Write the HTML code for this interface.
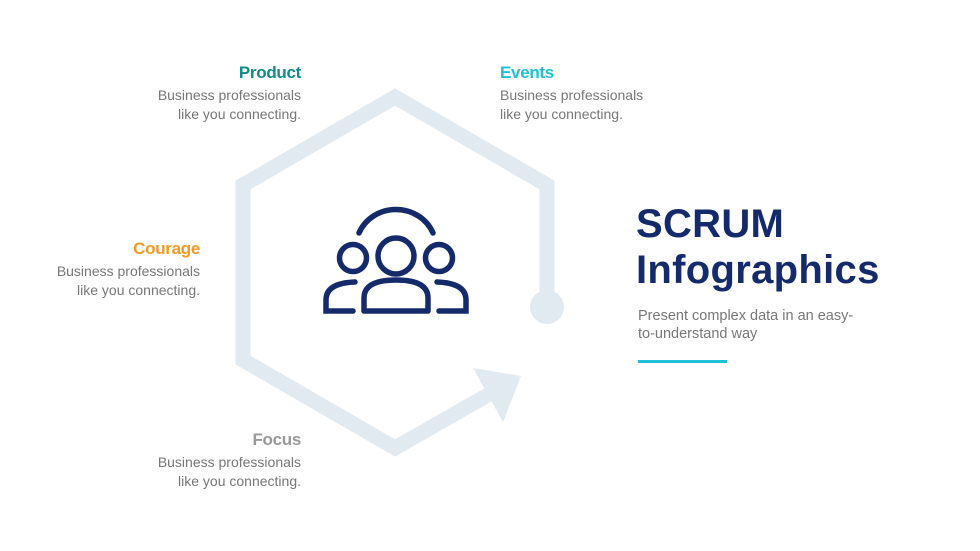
<!DOCTYPE html>
<html><head><meta charset="utf-8"><style>
body{margin:0;width:980px;height:551px;background:#fff;position:relative;overflow:hidden;font-family:"Liberation Sans",sans-serif}
.b{position:absolute;width:200px}
.b h3{margin:0;font-size:17px;font-weight:bold;line-height:20px;letter-spacing:-0.3px}
.b p{margin:3px 0 0;font-size:14px;line-height:19px;color:#777}
.r{text-align:right}
</style></head><body>
<svg width="980" height="551" style="position:absolute;left:0;top:0">
<g fill="none" stroke="#e2eaf1" stroke-width="15" stroke-linejoin="miter">
<polyline points="547,307 547,185 395,97 243,185 243,360 395,448 500,388"/>
</g>
<circle cx="547" cy="307" r="17" fill="#e2eaf1"/>
<polygon points="473,368 521,376 503,422" fill="#e2eaf1"/>
<g fill="none" stroke="#142a6b" stroke-width="5.5" stroke-linecap="round">
<path d="M359,233 A40,38 0 0 1 433,233"/>
<circle cx="396" cy="256" r="18"/>
<circle cx="353" cy="258" r="13.5"/>
<circle cx="439" cy="258" r="13.5"/>
<path d="M364,311 L364,298 Q364,280 396,280 Q428,280 428,298 L428,311 Z" stroke-linejoin="round"/>
<path d="M353,311 L326,311 L326,300 Q326,283 355,282"/>
<path d="M439,311 L466,311 L466,300 Q466,283 437,282"/>
</g>
</svg>
<div class="b r" style="left:101px;top:63px"><h3 style="color:#138a86">Product</h3><p>Business professionals<br>like you connecting.</p></div>
<div class="b" style="left:500px;top:63px"><h3 style="color:#1ec0d6">Events</h3><p>Business professionals<br>like you connecting.</p></div>
<div class="b r" style="left:0px;top:239px"><h3 style="color:#f39a25">Courage</h3><p>Business professionals<br>like you connecting.</p></div>
<div class="b r" style="left:101px;top:430px"><h3 style="color:#999">Focus</h3><p>Business professionals<br>like you connecting.</p></div>
<div style="position:absolute;left:636px;top:201px;color:#142a6b;font-weight:bold;font-size:40px;line-height:46px;letter-spacing:0.3px">SCRUM<br>Infographics</div>
<div style="position:absolute;left:638px;top:307px;color:#777;font-size:14.5px;line-height:18px;width:250px">Present complex data in an easy-<br>to-understand way</div>
<div style="position:absolute;left:638px;top:360px;width:89px;height:3px;background:#1ec0d6"></div>
</body></html>
